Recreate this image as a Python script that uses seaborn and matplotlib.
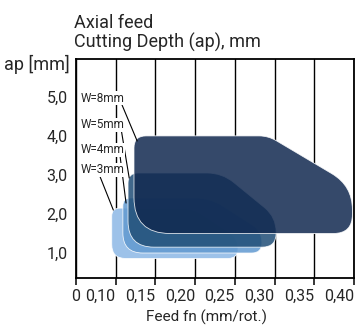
"""
Axial feed chart: cutting depth vs feed for several cutting widths
"""

import numpy as np
import matplotlib
matplotlib.use("Agg")
import matplotlib.pyplot as plt
from matplotlib import font_manager
from matplotlib.path import Path
from matplotlib.patches import PathPatch
import seaborn as sns

# --- data ---
widths = ["W=3mm", "W=4mm", "W=5mm", "W=8mm"]

# outline corners of each working area (feed mm/rot., depth mm)
# order: bottom-left, top-left, top-right, end of slope, bottom-right
w3_feed = [0.095, 0.095, 0.197, 0.254, 0.254]
w3_depth = [0.86, 2.15, 2.15, 1.38, 0.86]
w4_feed = [0.109, 0.109, 0.219, 0.284, 0.284]
w4_depth = [1.00, 2.41, 2.41, 1.56, 1.00]
w5_feed = [0.1155, 0.1155, 0.234, 0.302, 0.302]
w5_depth = [1.15, 3.05, 3.05, 1.92, 1.15]
w8_feed = [0.123, 0.123, 0.292, 0.398, 0.398]
w8_depth = [1.50, 4.00, 4.00, 2.72, 1.50]

x_ticks = [0.05, 0.10, 0.15, 0.20, 0.25, 0.30, 0.35, 0.40]
x_labels = ["0", "0,10", "0,15", "0,20", "0,25", "0,30", "0,35", "0,40"]
y_ticks = [1, 2, 3, 4, 5]
y_labels = ["1,0", "2,0", "3,0", "4,0", "5,0"]

colors = ["#8cb8e6", "#6199d0", "#204e77", "#112950"]

sns.set_theme(style="ticks")
installed = {f.name for f in font_manager.fontManager.ttflist}
main_font = "Liberation Sans Narrow" if "Liberation Sans Narrow" in installed else "Roboto"
plt.rcParams["font.family"] = [main_font, "DejaVu Sans"]

fig = plt.figure(figsize=(3.56, 3.32), dpi=100)
ax = fig.add_axes([76 / 356, 1 - 278 / 332, 278 / 356, 219 / 332])
ax.set_xlim(0.05, 0.40)
ax.set_ylim(0.36, 5.97)


def rounded_area(ax, xs, ys, radii, **kw):
    # round the corners of the outline in pixel space, then back to data
    pts = ax.transData.transform(np.column_stack([xs, ys]))
    n = len(pts)
    verts, codes = [], []
    for i in range(n):
        p, prev, nxt = pts[i], pts[i - 1], pts[(i + 1) % n]
        d1, d2 = prev - p, nxt - p
        l1, l2 = np.hypot(*d1), np.hypot(*d2)
        r = min(radii[i], l1 / 2, l2 / 2)
        verts.append(p + d1 / l1 * r)
        codes.append(Path.MOVETO if i == 0 else Path.LINETO)
        verts += [p, p + d2 / l2 * r]
        codes += [Path.CURVE3, Path.CURVE3]
    verts.append(verts[0])
    codes.append(Path.CLOSEPOLY)
    data = ax.transData.inverted().transform(np.array(verts))
    patch = PathPatch(Path(data, codes), **kw)
    ax.add_patch(patch)
    return patch


areas = [(w3_feed, w3_depth), (w4_feed, w4_depth), (w5_feed, w5_depth), (w8_feed, w8_depth)]
radii = [
    [14, 8, 12, 12, 10],
    [20, 8, 15, 14, 10],
    [26, 10, 15, 20, 14],
    [36, 12, 9, 32, 19],
]

# white underlay hides the grid behind the areas
for (xs, ys), rr in zip(areas, radii):
    rounded_area(ax, xs, ys, rr, facecolor="white", edgecolor="none", zorder=1.5)

for (xs, ys), rr, c in zip(areas, radii, colors):
    rounded_area(ax, xs, ys, rr, facecolor=c, edgecolor="white", linewidth=0.6,
                 alpha=0.85, zorder=2)

# axes styling
ax.set_xticks(x_ticks)
ax.set_xticklabels(x_labels)
ax.set_yticks(y_ticks)
ax.set_yticklabels(y_labels)
ax.tick_params(axis="x", length=5, width=1.1, color="black", pad=3, labelsize=11.5)
ax.tick_params(axis="y", length=0, pad=6, labelsize=11.5)
for lbl in ax.get_xticklabels()[1:]:
    lbl.set_horizontalalignment("right")
ax.xaxis.grid(True, color="black", linewidth=1.0)
ax.yaxis.grid(False)
ax.set_axisbelow(True)
for side in ["left", "bottom", "top", "right"]:
    ax.spines[side].set_color("black")
    ax.spines[side].set_linewidth(1.3)
    ax.spines[side].set_zorder(3)

# width labels with leader lines
label_pos = {"W=8mm": (0.056, 4.97), "W=5mm": (0.056, 4.28),
             "W=4mm": (0.056, 3.64), "W=3mm": (0.056, 3.13)}
leaders = {"W=8mm": ((0.108, 0.127), (4.79, 3.87)),
           "W=5mm": ((0.107, 0.117), (4.15, 2.92)),
           "W=4mm": ((0.105, 0.113), (3.56, 2.28)),
           "W=3mm": ((0.080, 0.097), (2.97, 2.10))}
for name in widths:
    lx, ly = leaders[name]
    ax.plot(lx, ly, color="black", linewidth=0.8, zorder=4)
    tx, ty = label_pos[name]
    ax.text(tx, ty, name, fontsize=8.5, ha="left", va="center", zorder=5,
            bbox=dict(facecolor="white", edgecolor="none", pad=0.4))

fig.text(74 / 356, 1 - 28 / 332, "Axial feed", fontsize=13, ha="left", va="baseline")
fig.text(74 / 356, 1 - 48 / 332, "Cutting Depth (ap), mm", fontsize=13,
         ha="left", va="baseline")
fig.text(70 / 356, 1 - 70 / 332, "ap [mm]", fontsize=13, ha="right", va="baseline")
fig.text(206 / 356, 1 - 322 / 332, "Feed fn (mm/rot.)", fontsize=11,
         ha="center", va="baseline")

fig.savefig("out.png", dpi=100)
